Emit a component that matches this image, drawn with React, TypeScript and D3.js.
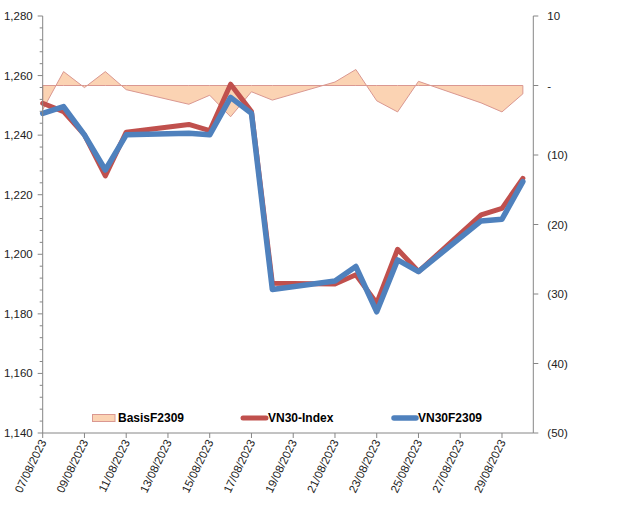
import React, { useEffect, useRef } from "react";
import * as d3 from "d3";

// trading days (dd/mm/yyyy)
const dates = [
  "07/08/2023", "08/08/2023", "09/08/2023", "10/08/2023", "11/08/2023",
  "14/08/2023", "15/08/2023", "16/08/2023", "17/08/2023", "18/08/2023",
  "21/08/2023", "22/08/2023", "23/08/2023", "24/08/2023", "25/08/2023",
  "28/08/2023", "29/08/2023", "30/08/2023",
];
const vn30Index = [
  1250.7, 1247.9, 1240.1, 1226.3, 1241.0, 1243.6, 1241.5, 1257.1, 1247.9, 1190.3,
  1190.0, 1193.1, 1183.6, 1201.7, 1194.2, 1213.2, 1215.4, 1225.5,
];
const vn30F2309 = [
  1247.3, 1249.6, 1240.1, 1228.3, 1240.1, 1240.6, 1240.1, 1252.7, 1247.3, 1188.2,
  1191.0, 1195.9, 1180.7, 1198.1, 1194.2, 1211.2, 1211.8, 1224.4,
];
const basisF2309 = [
  -3.5, 2.0, -0.3, 2.0, -0.6, -2.7, -1.4, -4.5, -0.9, -2.1,
  0.5, 2.3, -2.2, -3.8, 0.6, -2.5, -3.8, -1.2,
];
const leftTicks = [1140, 1160, 1180, 1200, 1220, 1240, 1260, 1280];
const rightTicks = [-50, -40, -30, -20, -10, 0, 10];

const W = 640;
const H = 505;
const parse = d3.timeParse("%d/%m/%Y");
const font = "Arial, 'Liberation Sans', sans-serif";
const RED = "#C0504D";
const BLUE = "#4F81BD";
const AXIS = "#868686";

export default function App() {
  const ref = useRef<SVGSVGElement | null>(null);

  useEffect(() => {
    if (!ref.current) return;
    const svg = d3.select(ref.current);
    svg.selectAll("*").remove();

    const plot = { left: 42.7, right: 533.3, top: 16, bottom: 433 };
    const xs = dates.map((d) => parse(d) as Date);
    const xEnd = d3.timeHour.offset(xs[xs.length - 1], 12);

    const x = d3.scaleTime().domain([xs[0], xEnd]).range([plot.left, plot.right]);
    const yL = d3.scaleLinear().domain([1140, 1280]).range([plot.bottom, plot.top]);
    const yR = d3.scaleLinear().domain([-50, 10]).range([plot.bottom, plot.top]);

    // basis area (right axis)
    const area = d3
      .area<number>()
      .x((_, i) => x(xs[i]))
      .y0(yR(0))
      .y1((d) => yR(d));
    svg
      .append("path")
      .attr("d", area(basisF2309) + "Z")
      .attr("fill", "#FBD3B3")
      .attr("stroke", "#DA9891")
      .attr("stroke-width", 1);

    const line = d3
      .line<number>()
      .x((_, i) => x(xs[i]))
      .y((d) => yL(d));

    svg
      .append("path")
      .attr("d", line(vn30Index))
      .attr("fill", "none")
      .attr("stroke", RED)
      .attr("stroke-width", 5)
      .attr("stroke-linejoin", "round")
      .attr("stroke-linecap", "round");
    svg
      .append("path")
      .attr("d", line(vn30F2309))
      .attr("fill", "none")
      .attr("stroke", BLUE)
      .attr("stroke-width", 5.5)
      .attr("stroke-linejoin", "round")
      .attr("stroke-linecap", "round");

    // left axis
    const gL = svg.append("g").attr("transform", `translate(${plot.left},0)`);
    gL.append("line")
      .attr("y1", plot.top).attr("y2", plot.bottom)
      .attr("stroke", AXIS);
    d3.range(1140, 1281, 4).forEach((v) => {
      const major = v % 20 === 0;
      gL.append("line")
        .attr("x1", major ? -5 : -3).attr("x2", 0)
        .attr("y1", yL(v)).attr("y2", yL(v))
        .attr("stroke", AXIS);
    });
    gL.selectAll("text.lt")
      .data(leftTicks)
      .enter()
      .append("text")
      .attr("x", -10)
      .attr("y", (d) => yL(d))
      .attr("dy", "0.35em")
      .attr("text-anchor", "end")
      .attr("font-family", font)
      .attr("font-size", 11.5)
      .attr("fill", "#222")
      .text((d) => d3.format(",")(d));

    // right axis
    const fmtR = (v: number) => (v === 0 ? "-" : v < 0 ? `(${-v})` : `${v}`);
    const gR = svg.append("g").attr("transform", `translate(${plot.right},0)`);
    gR.append("line")
      .attr("y1", plot.top).attr("y2", plot.bottom)
      .attr("stroke", AXIS);
    rightTicks.forEach((v) => {
      gR.append("line")
        .attr("x1", 0).attr("x2", 5)
        .attr("y1", yR(v)).attr("y2", yR(v))
        .attr("stroke", AXIS);
      gR.append("text")
        .attr("x", 14)
        .attr("y", yR(v))
        .attr("dy", "0.35em")
        .attr("font-family", font)
        .attr("font-size", 11.5)
        .attr("fill", "#222")
        .text(fmtR(v));
    });

    // bottom axis
    const gB = svg.append("g");
    gB.append("line")
      .attr("x1", plot.left).attr("x2", plot.right)
      .attr("y1", plot.bottom).attr("y2", plot.bottom)
      .attr("stroke", AXIS);
    const xTicks = d3.timeDay.range(xs[0], xEnd, 2);
    xTicks.forEach((t) => {
      gB.append("line")
        .attr("x1", x(t)).attr("x2", x(t))
        .attr("y1", plot.bottom).attr("y2", plot.bottom + 5)
        .attr("stroke", AXIS);
      gB.append("text")
        .attr("transform", `translate(${x(t) + 4},${plot.bottom + 9}) rotate(-64)`)
        .attr("text-anchor", "end")
        .attr("font-family", font)
        .attr("font-size", 11.5)
        .attr("fill", "#222")
        .text(d3.timeFormat("%d/%m/%Y")(t));
    });

    // legend
    const lg = svg.append("g").attr("font-family", font).attr("font-size", 12).attr("font-weight", "bold");
    const ly = 418;
    lg.append("rect")
      .attr("x", 92.5).attr("y", ly - 3.5).attr("width", 22.5).attr("height", 7)
      .attr("fill", "#FBD3B3").attr("stroke", "#DA9891");
    lg.append("text").attr("x", 118).attr("y", ly).attr("dy", "0.35em").text("BasisF2309");
    lg.append("line")
      .attr("x1", 243).attr("x2", 266).attr("y1", ly).attr("y2", ly)
      .attr("stroke", RED).attr("stroke-width", 5).attr("stroke-linecap", "round");
    lg.append("text").attr("x", 268).attr("y", ly).attr("dy", "0.35em").text("VN30-Index");
    lg.append("line")
      .attr("x1", 394).attr("x2", 416).attr("y1", ly).attr("y2", ly)
      .attr("stroke", BLUE).attr("stroke-width", 5.5).attr("stroke-linecap", "round");
    lg.append("text").attr("x", 418).attr("y", ly).attr("dy", "0.35em").text("VN30F2309");
  }, []);

  return (
    <svg
      ref={ref}
      width={W}
      height={H}
      style={{ position: "absolute", left: 0, top: 0, background: "#fff" }}
    />
  );
}
